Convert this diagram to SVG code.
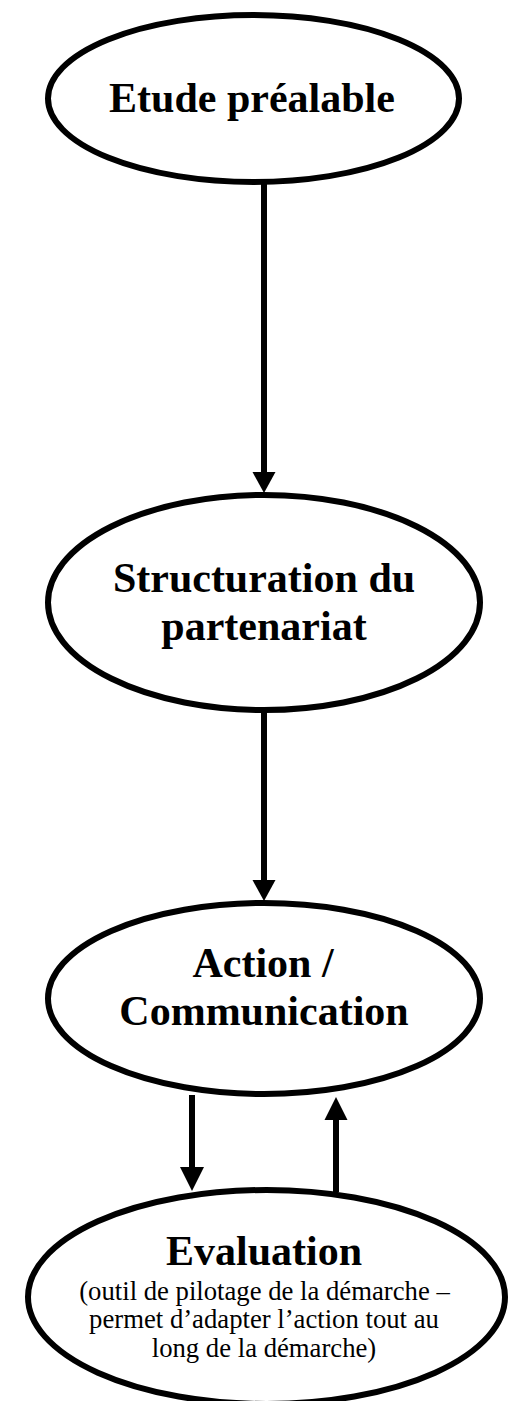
<svg xmlns="http://www.w3.org/2000/svg" width="512" height="1401" viewBox="0 0 512 1401">
<defs>
<style>
.n{fill:#fff;stroke:#000;stroke-width:6}
.t{font-family:"Liberation Serif","Times New Roman",serif;font-weight:bold;font-size:42px;text-anchor:middle;fill:#000}
.s{font-family:"Liberation Serif","Times New Roman",serif;font-size:26.7px;text-anchor:middle;fill:#000}
.c{stroke:#000;stroke-width:6;fill:none}
.h{fill:#000}
</style>
</defs>
<rect width="512" height="1401" fill="#fff"/>
<g id="connectors">
<line class="c" x1="264" y1="183" x2="264" y2="474"/>
<polygon class="h" points="252.5,472 275.5,472 264,493"/>
<line class="c" x1="264" y1="710" x2="264" y2="882"/>
<polygon class="h" points="252.5,880 275.5,880 264,901"/>
<line class="c" x1="192" y1="1095" x2="192" y2="1169"/>
<polygon class="h" points="180,1167 204,1167 192,1191"/>
<line class="c" x1="336" y1="1192" x2="336" y2="1118"/>
<polygon class="h" points="324.5,1120 347.5,1120 336,1097"/>
</g>
<g id="node1">
<ellipse class="n" cx="253.5" cy="98.5" rx="205.5" ry="83.5"/>
<text class="t" x="252" y="112">Etude préalable</text>
</g>
<g id="node2">
<ellipse class="n" cx="264" cy="602.5" rx="216" ry="107.5"/>
<text class="t" x="264" y="592">Structuration du</text>
<text class="t" x="264" y="640">partenariat</text>
</g>
<g id="node3">
<ellipse class="n" cx="264" cy="998.5" rx="216" ry="95.5"/>
<text class="t" x="263" y="977">Action /</text>
<text class="t" x="264" y="1025">Communication</text>
</g>
<g id="node4">
<ellipse class="n" cx="266.5" cy="1297" rx="238.5" ry="107" stroke-width="6.5"/>
<text class="t" x="264" y="1265">Evaluation</text>
<text class="s" x="264.5" y="1300">(outil de pilotage de la démarche –</text>
<text class="s" x="264" y="1328">permet d’adapter l’action tout au</text>
<text class="s" x="264" y="1357">long de la démarche)</text>
</g>
</svg>
